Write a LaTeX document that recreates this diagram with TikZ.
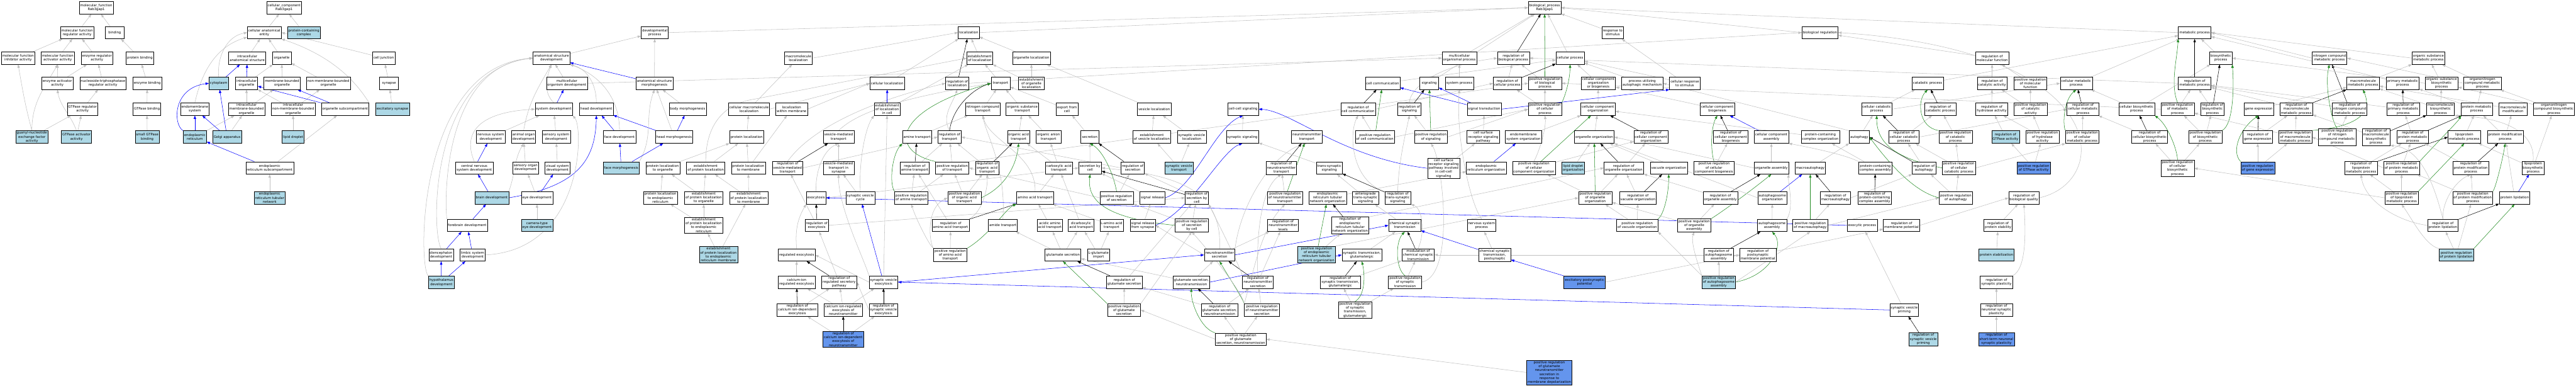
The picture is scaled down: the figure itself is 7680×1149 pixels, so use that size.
\documentclass[tikz,border=0pt]{standalone}
\usepackage{fontspec}
\setmainfont{DejaVu Sans}
\usetikzlibrary{arrows.meta,shadows,backgrounds}
\definecolor{lblue}{HTML}{ADD8E6}
\definecolor{cblue}{HTML}{6495ED}
\definecolor{egray}{HTML}{C0C0C0}
\definecolor{egreen}{HTML}{228B22}
\newcommand\gofont{\fontsize{5}{5.85}\selectfont}
\tikzset{
  box/.style={draw=black, line width=0.5pt, font=\gofont, align=center, minimum width=28pt, minimum height=18.5pt, inner xsep=1.5pt, inner ysep=1.2pt, drop shadow={shadow xshift=0.6pt, shadow yshift=-0.6pt, fill=black!40, opacity=1}},
  wb/.style={box, fill=white},
  lb/.style={box, fill=lblue},
  cb/.style={box, fill=cblue},
  ge/.style={draw=egray, line width=0.5pt, -{Triangle[length=5pt,width=3.6pt]}},
  be/.style={ge, draw=blue},
  ke/.style={ge, draw=black},
  gr/.style={ge, draw=egreen},
}
\begin{document}
\begin{tikzpicture}[x=0.5pt,y=-0.5pt]
\useasboundingbox (0,0) rectangle (7680,1149);
% ---------- molecular function ----------
\node[wb] (MF) at (287,23) {molecular\_function\\Rab3gap1};
\node[wb] (mfreg) at (230,97) {molecular function\\regulator activity};
\node[wb] (binding) at (342,97) {binding};
\node[wb] (mfinh) at (54,173) {molecular function\\inhibitor activity};
\node[wb] (mfact) at (172,173) {molecular function\\activator activity};
\node[wb] (enzreg) at (289,173) {enzyme regulator\\activity};
\node[wb] (protbind) at (417,173) {protein binding};
\node[wb] (enzact) at (171,248) {enzyme activator\\activity};
\node[wb] (ntpreg) at (307,248) {nucleoside-triphosphatase\\regulator activity};
\node[wb] (enzbind) at (439,248) {enzyme binding};
\node[wb] (gtpreg) at (246,325) {GTPase regulator\\activity};
\node[wb] (gtpbind) at (438,325) {GTPase binding};
\node[lb] (gnef) at (95,408) {guanyl-nucleotide\\exchange factor\\activity};
\node[lb] (gap) at (228,408) {GTPase activator\\activity};
\node[lb] (sgtpb) at (439,408) {small GTPase\\binding};
% ---------- cellular component ----------
\node[wb] (CC) at (847,23) {cellular\_component\\Rab3gap1};
\node[wb] (cae) at (788,97) {cellular anatomical\\entity};
\node[lb] (pcc) at (906,97) {protein-containing\\complex};
\node[wb] (ias) at (737,173) {intracellular\\anatomical structure};
\node[wb] (organelle) at (840,173) {organelle};
\node[wb] (celljunc) at (1144,173) {cell junction};
\node[lb] (cytoplasm) at (652,248) {cytoplasm};
\node[wb] (iorg) at (735,248) {intracellular\\organelle};
\node[wb] (mbo) at (841,248) {membrane-bounded\\organelle};
\node[wb] (nmbo) at (979,248) {non-membrane-bounded\\organelle};
\node[wb] (synapse) at (1160,248) {synapse};
\node[wb] (endomem) at (581,325) {endomembrane\\system};
\node[wb] (imbo) at (735,325) {intracellular\\membrane-bounded\\organelle};
\node[wb] (inmbo) at (874,325) {intracellular\\non-membrane-bounded\\organelle};
\node[wb] (osub) at (1029,325) {organelle subcompartment};
\node[lb] (exsyn) at (1170,325) {excitatory synapse};
\node[lb] (er) at (581,408) {endoplasmic\\reticulum};
\node[lb] (golgi) at (677,408) {Golgi apparatus};
\node[lb] (lipid) at (874,408) {lipid droplet};
\node[wb] (ersub) at (804,500) {endoplasmic\\reticulum subcompartment};
\node[lb] (ertub) at (804,589) {endoplasmic\\reticulum tubular\\network};
% ---------- development ----------
\node[wb] (dp) at (1952,97) {developmental\\process};
\node[wb] (asd) at (1644,173) {anatomical structure\\development};
\node[wb] (mod) at (1690,248) {multicellular\\organism development};
\node[wb] (asm) at (1951,248) {anatomical structure\\morphogenesis};
\node[wb] (sysdev) at (1651,325) {system development};
\node[wb] (headdev) at (1778,325) {head development};
\node[wb] (nsd) at (1463,408) {nervous system\\development};
\node[wb] (aod) at (1561,408) {animal organ\\development};
\node[wb] (ssd) at (1658,408) {sensory system\\development};
\node[wb] (facedev) at (1847,408) {face development};
\node[wb] (cnsd) at (1414,500) {central nervous\\system development};
\node[wb] (sod) at (1567,500) {sensory organ\\development};
\node[wb] (vsd) at (1662,500) {visual system\\development};
\node[lb] (facemorph) at (1852,500) {face morphogenesis};
\node[lb] (braindev) at (1466,589) {brain development};
\node[wb] (eyedev) at (1601,589) {eye development};
\node[wb] (forebrain) at (1393,671) {forebrain development};
\node[lb] (camera) at (1601,671) {camera-type\\eye development};
\node[wb] (dienceph) at (1315,759) {diencephalon\\development};
\node[wb] (limbic) at (1409,759) {limbic system\\development};
\node[lb] (hypoth) at (1316,841) {hypothalamus\\development};
% ---------- protein localization / vesicles ----------
\node[wb] (macroloc) at (2380,173) {macromolecule\\localization};
\node[wb] (bodymorph) at (2050,325) {body morphogenesis};
\node[wb] (cmacroloc) at (2233,325) {cellular macromolecule\\localization};
\node[wb] (locmem) at (2360,325) {localization\\within membrane};
\node[wb] (headmorph) at (2010,408) {head morphogenesis};
\node[wb] (protloc) at (2226,408) {protein localization};
\node[wb] (vmt) at (2500,408) {vesicle-mediated\\transport};
\node[wb] (plorg) at (1976,500) {protein localization\\to organelle};
\node[wb] (epl) at (2104,500) {establishment\\of protein localization};
\node[wb] (plmem) at (2231,500) {protein localization\\to membrane};
\node[wb] (rvmt) at (2348,500) {regulation of\\vesicle-mediated\\transport};
\node[wb] (vmts) at (2500,500) {vesicle-mediated\\transport in\\synapse};
\node[wb] (pler) at (1969,589) {protein localization\\to endoplasmic\\reticulum};
\node[wb] (eplorg) at (2098,589) {establishment\\of protein localization\\to organelle};
\node[wb] (eplmem) at (2232,589) {establishment\\of protein localization\\to membrane};
\node[wb] (exocytosis) at (2433,589) {exocytosis};
\node[wb] (svcycle) at (2565,589) {synaptic vesicle\\cycle};
\node[wb] (epler) at (2098,671) {establishment\\of protein localization\\to endoplasmic\\reticulum};
\node[wb] (rexo) at (2435,671) {regulation of\\exocytosis};
\node[lb] (eplerm) at (2142,758) {establishment\\of protein localization\\to endoplasmic\\reticulum membrane};
\node[wb] (regexo) at (2375,759) {regulated exocytosis};
\node[wb] (caexo) at (2375,840) {calcium-ion\\regulated exocytosis};
\node[wb] (rrsp) at (2502,840) {regulation of\\regulated secretory\\pathway};
\node[wb] (rcade) at (2377,923) {regulation of\\calcium ion-dependent\\exocytosis};
\node[wb] (caexont) at (2514,923) {calcium ion-regulated\\exocytosis of\\neurotransmitter};
\node[cb] (rcadent) at (2514,1010) {regulation of\\calcium ion-dependent\\exocytosis of\\neurotransmitter};
% ---------- transport ----------
\node[wb] (localization) at (2888,97) {localization};
\node[wb] (estloc) at (2921,173) {establishment\\of localization};
\node[wb] (orgloc) at (3075,173) {organelle localization};
\node[wb] (cellloc) at (2645,248) {cellular localization};
\node[wb] (rloc) at (2854,248) {regulation of\\localization};
\node[wb] (transport) at (2983,248) {transport};
\node[wb] (eorgloc) at (3075,248) {establishment\\of organelle\\localization};
\node[wb] (elcell) at (2645,325) {establishment\\of localization\\in cell};
\node[wb] (nctrans) at (2930,325) {nitrogen compound\\transport};
\node[wb] (ostrans) at (3048,325) {organic substance\\transport};
\node[wb] (exportcell) at (3181,325) {export from\\cell};
\node[wb] (amtrans) at (2734,408) {amine transport};
\node[wb] (rtrans) at (2831,408) {regulation of\\transport};
\node[wb] (oatrans) at (3037,408) {organic acid\\transport};
\node[wb] (oantrans) at (3126,408) {organic anion\\transport};
\node[wb] (ramt) at (2727,500) {regulation of\\amine transport};
\node[wb] (prtrans) at (2839,500) {positive regulation\\of transport};
\node[wb] (roat) at (2943,500) {regulation of\\organic acid\\transport};
\node[wb] (catrans) at (3157,500) {carboxylic acid\\transport};
\node[wb] (prat) at (2717,589) {positive regulation\\of amine transport};
\node[wb] (proat) at (2875,589) {positive regulation\\of organic acid\\transport};
\node[wb] (aatrans) at (3086,589) {amino acid transport};
\node[wb] (raat) at (2834,671) {regulation of\\amino acid transport};
\node[wb] (amidetrans) at (2990,671) {amide transport};
\node[wb] (acaatrans) at (3130,671) {acidic amino\\acid transport};
\node[wb] (dicarb) at (3223,671) {dicarboxylic\\acid transport};
\node[wb] (praat) at (2833,759) {positive regulation\\of amino acid\\transport};
\node[wb] (glusec) at (3169,759) {glutamate secretion};
\node[wb] (svexo) at (2634,840) {synaptic vesicle\\exocytosis};
\node[wb] (rsvexo) at (2634,923) {regulation of\\synaptic vesicle\\exocytosis};
% ---------- secretion ----------
\node[wb] (vesloc) at (3441,325) {vesicle localization};
\node[wb] (ccsig) at (3706,325) {cell-cell signaling};
\node[wb] (secretion) at (3249,408) {secretion};
\node[wb] (evl) at (3434,408) {establishment\\of vesicle localization};
\node[wb] (svloc) at (3553,408) {synaptic vesicle\\localization};
\node[wb] (synsig) at (3704,408) {synaptic signaling};
\node[wb] (secbycell) at (3250,500) {secretion by\\cell};
\node[wb] (rsec) at (3377,500) {regulation of\\secretion};
\node[lb] (svtrans) at (3515,500) {synaptic vesicle\\transport};
\node[wb] (rntt) at (3820,500) {regulation of\\neurotransmitter\\transport};
\node[wb] (prsec) at (3329,589) {positive regulation\\of secretion};
\node[wb] (sigrel) at (3436,589) {signal release};
\node[wb] (rsbc) at (3568,589) {regulation of\\secretion by\\cell};
\node[wb] (prntt) at (3831,589) {positive regulation\\of neurotransmitter\\transport};
\node[wb] (Lamino) at (3314,671) {L-amino acid\\transport};
\node[wb] (sigsyn) at (3407,671) {signal release\\from synapse};
\node[wb] (prsbc) at (3553,671) {positive regulation\\of secretion\\by cell};
\node[wb] (rntl) at (3825,671) {regulation of\\neurotransmitter\\levels};
\node[wb] (Lglu) at (3275,759) {L-glutamate\\import};
\node[wb] (ntsec) at (3636,759) {neurotransmitter\\secretion};
\node[wb] (rglusec) at (3352,840) {regulation of\\glutamate secretion};
\node[wb] (glusecnt) at (3552,840) {glutamate secretion,\\neurotransmission};
\node[wb] (rntsec) at (3750,840) {regulation of\\neurotransmitter\\secretion};
\node[wb] (prglusec) at (3351,923) {positive regulation\\of glutamate\\secretion};
\node[wb] (rglusecnt) at (3636,923) {regulation of\\glutamate secretion,\\neurotransmission};
\node[wb] (prntsec) at (3762,923) {positive regulation\\of neurotransmitter\\secretion};
\node[wb] (prglusecnt) at (3699,1010) {positive regulation\\of glutamate\\secretion, neurotransmission};
% ---------- signaling ----------
\node[wb] (mop) at (4351,173) {multicellular\\organismal process};
\node[wb] (rbp) at (4512,173) {regulation of\\biological process};
\node[wb] (cellcomm) at (4122,248) {cell communication};
\node[wb] (signaling) at (4261,248) {signaling};
\node[wb] (sysproc) at (4351,248) {system process};
\node[wb] (rcellproc) at (4494,248) {regulation of\\cellular process};
\node[wb] (rcc) at (4049,325) {regulation of\\cell communication};
\node[wb] (rsig) at (4202,325) {regulation of\\signaling};
\node[wb] (sigtrans) at (4425,325) {signal transduction};
\node[wb] (ntt) at (3896,408) {neurotransmitter\\transport};
\node[wb] (prcc) at (4099,408) {positive regulation\\of cell communication};
\node[wb] (prsig) at (4266,408) {positive regulation\\of signaling};
\node[wb] (csrsp) at (4422,408) {cell surface\\receptor signaling\\pathway};
\node[wb] (tss) at (3963,500) {trans-synaptic\\signaling};
\node[wb] (csrspccs) at (4304,501) {cell surface\\receptor signaling\\pathway involved\\in cell-cell\\signaling};
\node[wb] (erorg) at (4431,500) {endoplasmic\\reticulum organization};
\node[wb] (erton) at (3958,589) {endoplasmic\\reticulum tubular\\network organization};
\node[wb] (ats) at (4071,589) {anterograde\\trans-synaptic\\signaling};
\node[wb] (rtss) at (4167,589) {regulation of\\trans-synaptic\\signaling};
\node[wb] (rerton) at (4025,671) {regulation of\\endoplasmic\\reticulum tubular\\network organization};
\node[wb] (cst) at (4188,671) {chemical synaptic\\transmission};
\node[wb] (nsp) at (4417,671) {nervous system\\process};
\node[lb] (prerton) at (3925,758) {positive regulation\\of endoplasmic\\reticulum tubular\\network organization};
\node[wb] (stg) at (4060,759) {synaptic transmission,\\glutamatergic};
\node[wb] (mcst) at (4228,759) {modulation of\\chemical synaptic\\transmission};
\node[wb] (cstp) at (4456,759) {chemical synaptic\\transmission,\\postsynaptic};
\node[wb] (rstg) at (3996,840) {regulation of\\synaptic transmission,\\glutamatergic};
\node[wb] (prst) at (4189,840) {positive regulation\\of synaptic\\transmission};
\node[wb] (prstg) at (4040,923) {positive regulation\\of synaptic\\transmission,\\glutamatergic};
% ---------- biological process / organization ----------
\node[wb] (BP) at (4605,23) {biological\_process\\Rab3gap1};
\node[wb] (rts) at (4808,97) {response to\\stimulus};
\node[wb] (cellproc) at (4681,173) {cellular process};
\node[wb] (prbp) at (4606,248) {positive regulation\\of biological\\process};
\node[wb] (ccob) at (4765,248) {cellular component\\organization\\or biogenesis};
\node[wb] (puam) at (4896,248) {process utilizing\\autophagic mechanism};
\node[wb] (crs) at (5023,248) {cellular response\\to stimulus};
\node[wb] (prcp) at (4606,325) {positive regulation\\of cellular\\process};
\node[wb] (cco) at (4764,325) {cellular component\\organization};
\node[wb] (ccb) at (5120,325) {cellular component\\biogenesis};
\node[wb] (emso) at (4542,408) {endomembrane\\system organization};
\node[wb] (orgorg) at (4753,408) {organelle organization};
\node[wb] (rcco) at (4922,408) {regulation of\\cellular component\\organization};
\node[wb] (rccb) at (5160,408) {regulation of\\cellular component\\biogenesis};
\node[wb] (prcco) at (4573,500) {positive regulation\\of cellular\\component organization};
\node[lb] (ldo) at (4690,500) {lipid droplet\\organization};
\node[wb] (roo) at (4841,500) {regulation of\\organelle organization};
\node[wb] (vacorg) at (4975,500) {vacuole organization};
\node[wb] (prccb) at (5110,500) {positive regulation\\of cellular\\component biogenesis};
\node[wb] (proo) at (4756,589) {positive regulation\\of organelle\\organization};
\node[wb] (rvo) at (4883,589) {regulation of\\vacuole organization};
\node[wb] (roa) at (5129,589) {regulation of\\organelle assembly};
\node[wb] (prvo) at (4881,671) {positive regulation\\of vacuole organization};
\node[wb] (proa) at (5051,671) {positive regulation\\of organelle\\assembly};
\node[wb] (rautoasm) at (5124,759) {regulation of\\autophagosome\\assembly};
\node[cb] (epp) at (4724,840) {excitatory postsynaptic\\potential};
\node[lb] (pras) at (5124,840) {positive regulation\\of autophagosome\\assembly};
\node[cb] (prgntmd) at (4619,1109) {positive regulation\\of glutamate\\neurotransmitter\\secretion in\\response to\\membrane depolarization};
% ---------- autophagy / catabolism ----------
\node[wb] (bioreg) at (5426,97) {biological regulation};
\node[wb] (catproc) at (5747,248) {catabolic process};
\node[wb] (ccatproc) at (5595,325) {cellular catabolic\\process};
\node[wb] (rcatproc) at (5785,325) {regulation of\\catabolic process};
\node[wb] (ccasm) at (5281,408) {cellular component\\assembly};
\node[wb] (pcco) at (5427,408) {protein-containing\\complex organization};
\node[wb] (autophagy) at (5543,408) {autophagy};
\node[wb] (rccatp) at (5676,408) {regulation of\\cellular catabolic\\process};
\node[wb] (orgasm) at (5281,500) {organelle assembly};
\node[wb] (macroauto) at (5397,500) {macroautophagy};
\node[wb] (pcca) at (5591,500) {protein-containing\\complex assembly};
\node[wb] (rautophagy) at (5736,500) {regulation of\\autophagy};
\node[wb] (autoorg) at (5284,589) {autophagosome\\organization};
\node[wb] (rmacroauto) at (5472,589) {regulation of\\macroautophagy};
\node[wb] (rpcca) at (5589,589) {regulation of\\protein-containing\\complex assembly};
\node[wb] (autoasm) at (5283,671) {autophagosome\\assembly};
\node[wb] (prmacroauto) at (5397,671) {positive regulation\\of macroautophagy};
\node[wb] (exoproc) at (5552,671) {exocytic process};
\node[wb] (rmp) at (5669,671) {regulation of\\membrane potential};
\node[wb] (rpmp) at (5241,759) {regulation of\\postsynaptic\\membrane potential};
\node[wb] (svpriming) at (5677,923) {synaptic vesicle\\priming};
\node[lb] (rsvpriming) at (5734,1010) {regulation of\\synaptic vesicle\\priming};
% ---------- molecular function regulation ----------
\node[wb] (rmf) at (5939,173) {regulation of\\molecular function};
\node[wb] (rca) at (5939,248) {regulation of\\catalytic activity};
\node[wb] (prmf) at (6053,248) {positive regulation\\of molecular\\function};
\node[wb] (cmp) at (6190,248) {cellular metabolic\\process};
\node[wb] (rha) at (5938,325) {regulation of\\hydrolase activity};
\node[wb] (prca) at (6054,325) {positive regulation\\of catalytic\\activity};
\node[wb] (rcmp) at (6210,325) {regulation of\\cellular metabolic\\process};
\node[wb] (cbp) at (6370,325) {cellular biosynthetic\\process};
\node[wb] (prcatp) at (5830,408) {positive regulation\\of catabolic\\process};
\node[lb] (rgtpase) at (5979,408) {regulation of\\GTPase activity};
\node[wb] (prha) at (6089,408) {positive regulation\\of hydrolase\\activity};
\node[wb] (prcmp) at (6208,408) {positive regulation\\of cellular\\metabolic process};
\node[wb] (rcbp) at (6409,408) {regulation of\\cellular biosynthetic\\process};
\node[wb] (prccatp) at (5840,500) {positive regulation\\of cellular\\catabolic process};
\node[cb] (prgtpase) at (6063,500) {positive regulation\\of GTPase activity};
\node[wb] (prautophagy) at (5831,589) {positive regulation\\of autophagy};
\node[wb] (rbq) at (6034,589) {regulation of\\biological quality};
\node[wb] (rps) at (5957,671) {regulation of\\protein stability};
\node[lb] (protstab) at (5952,759) {protein stabilization};
\node[wb] (rsp) at (5952,840) {regulation of\\synaptic plasticity};
\node[wb] (rnsp) at (5952,923) {regulation of\\neuronal synaptic\\plasticity};
\node[cb] (rstnsp) at (5952,1010) {regulation of\\short-term neuronal\\synaptic plasticity};
% ---------- metabolism ----------
\node[wb] (mp) at (6543,97) {metabolic process};
\node[wb] (bp2) at (6621,173) {biosynthetic\\process};
\node[wb] (ncmp) at (6945,173) {nitrogen compound\\metabolic process};
\node[wb] (rmp2) at (6543,248) {regulation of\\metabolic process};
\node[wb] (mmp) at (7045,248) {macromolecule\\metabolic process};
\node[wb] (prmp) at (6492,325) {positive regulation\\of metabolic\\process};
\node[wb] (rbsp) at (6596,325) {regulation of\\biosynthetic\\process};
\node[wb] (geneexp) at (6734,325) {gene expression};
\node[wb] (rmmp) at (6846,325) {regulation of\\macromolecule\\metabolic process};
\node[wb] (rncmp) at (7005,325) {regulation of\\nitrogen compound\\metabolic process};
\node[wb] (prbsp) at (6575,408) {positive regulation\\of biosynthetic\\process};
\node[wb] (rge) at (6731,408) {regulation of\\gene expression};
\node[wb] (prmmp) at (6843,408) {positive regulation\\of macromolecule\\metabolic process};
\node[wb] (prncmp) at (6968,408) {positive regulation\\of nitrogen\\compound metabolic\\process};
\node[wb] (prcbp) at (6492,501) {positive regulation\\of cellular\\biosynthetic\\process};
\node[cb] (prge) at (6731,500) {positive regulation\\of gene expression};
\node[wb] (rlmp) at (7039,500) {regulation of\\lipoprotein\\metabolic process};
\node[wb] (osmp) at (7240,173) {organic substance\\metabolic process};
\node[wb] (pmp) at (7163,248) {primary metabolic\\process};
\node[wb] (osbp) at (7279,248) {organic substance\\biosynthetic\\process};
\node[wb] (oncmp) at (7401,248) {organonitrogen\\compound metabolic\\process};
\node[wb] (rpmp2) at (7165,325) {regulation of\\primary metabolic\\process};
\node[wb] (mbp) at (7276,325) {macromolecule\\biosynthetic\\process};
\node[wb] (protmp) at (7384,325) {protein metabolic\\process};
\node[wb] (mmod) at (7492,325) {macromolecule\\modification};
\node[wb] (oncbp) at (7614,325) {organonitrogen\\compound biosynthetic\\process};
\node[wb] (rmbp) at (7084,408) {regulation of\\macromolecule\\biosynthetic\\process};
\node[wb] (rprotmp) at (7193,408) {regulation of\\protein metabolic\\process};
\node[wb] (lmp) at (7347,408) {lipoprotein\\metabolic process};
\node[wb] (pmproc) at (7469,408) {protein modification\\process};
\node[wb] (prprotmp) at (7160,500) {positive regulation\\of protein metabolic\\process};
\node[wb] (rpmod) at (7366,500) {regulation of\\protein modification\\process};
\node[wb] (lbp) at (7552,500) {lipoprotein\\biosynthetic\\process};
\node[wb] (prlmp) at (7160,589) {positive regulation\\of lipoprotein\\metabolic process};
\node[wb] (prpmod) at (7372,589) {positive regulation\\of protein modification\\process};
\node[wb] (protlip) at (7497,589) {protein lipidation};
\node[wb] (rprotlip) at (7283,671) {regulation of\\protein lipidation};
\node[lb] (prprotlip) at (7323,759) {positive regulation\\of protein lipidation};

\begin{pgfonlayer}{background}
\fill[white] (0,0) rectangle (7680,1149);
% MF
\draw[ge] (mfreg) -- (MF);
\draw[ge] (binding) -- (MF);
\draw[ge] (mfinh) -- (mfreg);
\draw[ge] (mfact) -- (mfreg);
\draw[ge] (enzreg) -- (mfreg);
\draw[ge] (protbind) -- (binding);
\draw[ge] (enzact) -- (mfact);
\draw[ge] (enzact) -- (enzreg);
\draw[ge] (ntpreg) -- (enzreg);
\draw[ge] (enzbind) -- (protbind);
\draw[ge] (gtpreg) -- (ntpreg);
\draw[ge] (gtpbind) -- (enzbind);
\draw[ge] (gnef.north) to[out=105,in=-80] (mfinh.south);
\draw[ge] (gnef.north) to[out=90,in=-120] (mfact.south);
\draw[ge] (gnef) -- (gtpreg);
\draw[ge] (gap.north) to[out=110,in=-80] (enzact.south);
\draw[ge] (gap) -- (gtpreg);
\draw[ge] (sgtpb) -- (gtpbind);
% CC
\draw[ge] (cae) -- (CC);
\draw[ge] (pcc) -- (CC);
\draw[ge] (ias) -- (cae);
\draw[ge] (organelle) -- (cae);
\draw[ge] (cytoplasm.north) to[out=95,in=190] (cae.west);
\draw[ge] (endomem.north) .. controls (600,220) and (640,140) .. (cae.195);
\draw[ge] (celljunc) -- (cae.east);
\draw[ge] (osub.north east) .. controls (1065,250) and (1000,170) .. (cae.south east);
\draw[ge] (iorg) -- (organelle);
\draw[ge] (mbo) -- (organelle);
\draw[ge] (nmbo) -- (organelle);
\draw[ge] (synapse) -- (celljunc);
\draw[ge] (imbo) -- (iorg);
\draw[ge] (imbo) -- (mbo);
\draw[ge] (inmbo) -- (iorg);
\draw[ge] (inmbo) -- (nmbo);
\draw[ge] (exsyn) -- (synapse);
\draw[ge] (golgi) -- (imbo);
\draw[ge] (er) -- (imbo);
\draw[ge] (lipid) -- (inmbo);
\draw[ge] (ersub) -- (osub);
\draw[ge] (ertub) -- (ersub);
\draw[be] (er) -- (endomem);
\draw[be] (er.north west) .. controls (515,370) and (515,262) .. (cytoplasm.west);
\draw[be] (golgi) -- (endomem);
\draw[be] (golgi) -- (cytoplasm);
\draw[be] (cytoplasm) -- (ias);
\draw[be] (iorg) -- (ias);
\draw[be] (osub) -- (iorg);
\draw[be] (osub) -- (mbo);
\draw[be] (ersub) -- (er);
% development
\draw[ge] (asd) -- (dp);
\draw[ge] (asm) -- (dp);
\draw[ge] (mod) -- (asd);
\draw[be] (asm) -- (asd);
\draw[ge] (sysdev.north) to[out=135,in=-110] (asd.south);
\draw[ge] (headdev.north) to[out=90,in=-15] (asd.south east);
\draw[ge] (facedev.north) to[out=90,in=-20] (asd.south east);
\draw[be] (sysdev) -- (mod);
\draw[ge] (nsd) -- (sysdev);
\draw[ge] (aod.north) to[out=80,in=-120] (asd.south);
\draw[ge] (cnsd.north) .. controls (1380,400) and (1420,335) .. (sysdev.west);
\draw[ge] (ssd) -- (sysdev);
\draw[be] (facedev) -- (headdev);
\draw[be] (headmorph) -- (headdev);
\draw[be] (facemorph) -- (facedev);
\draw[ge] (facemorph.north east) to[out=60,in=-110] (asm.south);
\draw[be] (facemorph) -- (headmorph);
\draw[be] (cnsd) -- (nsd);
\draw[ge] (sod) -- (aod);
\draw[ge] (vsd) -- (ssd);
\draw[be] (braindev) -- (cnsd);
\draw[ge] (braindev.north east) to[out=70,in=-120] (aod.south);
\draw[be] (braindev.east) .. controls (1720,555) and (1775,480) .. (headdev.south);
\draw[ge] (eyedev) -- (sod);
\draw[be] (eyedev) -- (vsd);
\draw[ge] (camera) -- (eyedev);
\draw[be] (forebrain) -- (braindev);
\draw[ge] (forebrain.north west) .. controls (1325,600) and (1320,200) .. (asd.west);
\draw[be] (dienceph) -- (forebrain);
\draw[ge] (dienceph.north) .. controls (1285,690) and (1280,210) .. (asd.west);
\draw[be] (limbic) -- (forebrain);
\draw[ge] (limbic.east) .. controls (1740,745) and (1740,380) .. (sysdev.south east);
\draw[be] (hypoth) -- (dienceph);
\draw[be] (hypoth) -- (limbic);
\draw[ge] (hypoth.north west) .. controls (1245,790) and (1245,200) .. (asd.west);
\draw[ge] (bodymorph) -- (asm);
\draw[ge] (headmorph) -- (asm);
\draw[be] (headmorph) -- (bodymorph);
\draw[ge] (mod.east) -- (mop.west);
\draw[ge] (dp.east) -- (BP.west);
% localization
\draw[ge] (cmacroloc) -- (macroloc);
\draw[ge] (protloc) -- (cmacroloc);
\draw[ge] (macroloc.east) -- (localization.west);
\draw[ge] (cmacroloc.east) -- (cellloc.west);
\draw[ge] (locmem.east) -- (cellloc.west);
\draw[ge] (plorg) -- (protloc);
\draw[ge] (epl) -- (protloc);
\draw[ge] (epl.north) .. controls (2104,380) and (2150,310) .. (2250,295) -- (estloc.west);
\draw[ge] (plmem) -- (protloc);
\draw[ge] (plmem) -- (locmem);
\draw[ge] (pler) -- (plorg);
\draw[ge] (eplorg) -- (plorg);
\draw[ge] (eplorg) -- (epl);
\draw[ge] (eplmem) -- (epl);
\draw[ge] (eplmem) -- (plmem);
\draw[ge] (epler) -- (pler);
\draw[ge] (epler) -- (eplorg);
\draw[ge] (eplerm) -- (epler);
\draw[ge] (eplerm) -- (eplmem);
\draw[ge] (vmt.north) .. controls (2560,330) and (2700,290) .. (transport.west);
\draw[ke] (rvmt) -- (vmt);
\draw[ge] (rvmt.east) -- (rtrans.west);
\draw[ge] (rvmt.north) .. controls (2420,380) and (2600,300) .. (rloc.west);
\draw[ge] (vmts) -- (vmt);
\draw[ge] (exocytosis.north) .. controls (2430,520) and (2450,450) .. (vmt.south);
\draw[ge] (exocytosis.east) -- (secbycell.west);
\draw[ge] (svcycle) -- (vmts);
\draw[ke] (rexo) -- (exocytosis);
\draw[ge] (rexo) -- (rvmt);
\draw[ge] (rexo.east) -- (rsbc.west);
\draw[ge] (regexo.north) to[out=95,in=-120] (exocytosis.south west);
\draw[ke] (rrsp) -- (regexo);
\draw[ge] (rrsp) -- (rexo);
\draw[ge] (caexo) -- (regexo);
\draw[ke] (rcade) -- (caexo);
\draw[ge] (rcade) -- (rrsp);
\draw[ge] (caexont) -- (caexo);
\draw[ge] (caexont) -- (rrsp);
\draw[ge] (caexont) -- (svexo);
\draw[ge] (rcadent) -- (rcade);
\draw[ke] (rcadent) -- (caexont);
\draw[ge] (rcadent) -- (rsvexo);
\draw[ge] (svexo.north west) .. controls (2580,780) and (2500,620) .. (vmts.south);
\draw[ge] (svexo.west) -- (regexo.east);
\draw[ge] (rsvexo.west) -- (rrsp.east);
% transport
\draw[ge] (localization.east) -- (BP.west);
\draw[ge] (estloc) -- (localization);
\draw[ge] (orgloc) -- (localization);
\draw[ge] (cellloc) -- (localization);
\draw[ke] (rloc) -- (localization);
\draw[ge] (rloc.east) -- (bioreg.west);
\draw[ge] (transport) -- (estloc);
\draw[ge] (eorgloc) -- (orgloc);
\draw[ge] (eorgloc) -- (estloc);
\draw[be] (elcell) -- (cellloc);
\draw[ge] (elcell) -- (estloc);
\draw[ge] (nctrans) -- (transport);
\draw[ge] (ostrans) -- (transport);
\draw[ge] (exportcell) -- (transport);
\draw[ge] (amtrans) -- (nctrans);
\draw[ge] (rtrans.north) to[out=120,in=-110] (rloc.south);
\draw[ke] (rtrans.north) .. controls (2840,320) and (2900,265) .. (transport.west);
\draw[ge] (oatrans) -- (ostrans);
\draw[ge] (oantrans) -- (ostrans);
\draw[ke] (ramt) -- (amtrans);
\draw[ge] (ramt) -- (rtrans);
\draw[ge] (prtrans) -- (rtrans);
\draw[gr] (prtrans.north west) .. controls (2650,450) and (2660,330) .. (transport.west);
\draw[ge] (prtrans.north east) -- (prbp.west);
\draw[ge] (roat) -- (rtrans);
\draw[ke] (roat) -- (oatrans);
\draw[ge] (catrans) -- (oatrans);
\draw[ge] (catrans) -- (oantrans);
\draw[ge] (prat) -- (ramt);
\draw[ge] (prat) -- (prtrans);
\draw[gr] (prat.north west) .. controls (2650,545) and (2660,460) .. (amtrans.south west);
\draw[ge] (proat) -- (prtrans);
\draw[ge] (proat) -- (roat);
\draw[gr] (proat.east) .. controls (3000,555) and (3030,490) .. (oatrans.south);
\draw[ge] (aatrans.north) .. controls (3090,460) and (2950,420) .. (nctrans.south);
\draw[ge] (aatrans) -- (catrans);
\draw[ge] (raat) -- (ramt);
\draw[ge] (raat.north east) .. controls (2930,630) and (2945,560) .. (roat.south);
\draw[ke] (raat) -- (aatrans);
\draw[ge] (amidetrans.north) .. controls (3000,500) and (2940,400) .. (nctrans.south);
\draw[ge] (acaatrans) -- (aatrans);
\draw[ge] (dicarb) -- (catrans);
\draw[ge] (praat) -- (raat);
\draw[ge] (praat.north west) .. controls (2770,720) and (2760,620) .. (proat.west);
\draw[ge] (praat.north west) .. controls (2770,730) and (2730,650) .. (prat.south);
\draw[gr] (praat.north east) .. controls (2950,700) and (3000,620) .. (aatrans.south west);
\draw[ge] (glusec) -- (amidetrans);
\draw[ge] (glusec) -- (acaatrans);
\draw[ge] (glusec) -- (dicarb);
\draw[be] (svexo) -- (svcycle);
\draw[be] (exoproc.west) -- (exocytosis.east);
\draw[be] (svexo.east) -- (ntsec.west);
\draw[be] (svpriming.west) -- (svexo.east);
\draw[ke] (rsvexo) -- (svexo);
\draw[ge] (svexo) -- (elcell);
\draw[ge] (svcycle.north) .. controls (2560,480) and (2580,380) .. (elcell.south west);
% secretion
\draw[ge] (vesloc) -- (orgloc);
\draw[ge] (evl) -- (vesloc);
\draw[ge] (svloc) -- (vesloc);
\draw[ge] (svtrans) -- (evl);
\draw[ge] (svtrans) -- (svloc);
\draw[ge] (secretion) -- (exportcell);
\draw[ge] (secbycell) -- (secretion);
\draw[ke] (rsec) -- (secretion);
\draw[ge] (rsec.west) -- (rtrans.east);
\draw[ge] (prsec) -- (rsec);
\draw[gr] (prsec.north) .. controls (3320,520) and (3290,450) .. (secretion.south);
\draw[ge] (prsec.west) -- (prtrans.east);
\draw[ke] (rsbc) -- (secbycell);
\draw[ge] (rsbc) -- (rsec);
\draw[ge] (prsbc) -- (rsbc);
\draw[ge] (prsbc) -- (prsec);
\draw[gr] (prsbc.west) .. controls (3300,650) and (3240,600) .. (secbycell.south);
\draw[ge] (sigrel) -- (secbycell);
\draw[be] (sigrel.east) .. controls (3560,560) and (3620,380) .. (ccsig.south);
\draw[ge] (sigsyn) -- (sigrel);
\draw[be] (sigsyn.east) .. controls (3550,630) and (3640,450) .. (synsig.south);
\draw[ge] (synsig) -- (ccsig);
\draw[ge] (Lamino) -- (aatrans);
\draw[ge] (Lglu) -- (Lamino);
\draw[ge] (Lglu) -- (dicarb);
\draw[ge] (ntsec) -- (rntl);
\draw[ge] (ntsec.west) -- (sigsyn.east);
\draw[ge] (ntsec.north) .. controls (3645,560) and (3500,520) .. (secbycell.east);
\draw[ge] (ntsec.north east) .. controls (3700,600) and (3800,450) .. (ntt.south);
\draw[gr] (prntt) -- (ntt);
\draw[ke] (rntt) -- (ntt);
\draw[ge] (prntt) -- (rntt);
\draw[be] (ntsec.east) -- (cst.west);
\draw[ge] (glusecnt) -- (glusec);
\draw[ge] (glusecnt) -- (ntsec);
\draw[be] (glusecnt.east) -- (stg.west);
\draw[ke] (rglusec) -- (glusec);
\draw[ge] (rglusec) -- (rsbc);
\draw[ge] (prglusec) -- (rglusec);
\draw[gr] (prglusec.north west) -- (glusec.south);
\draw[ge] (prglusec.north east) -- (prsbc.south);
\draw[ke] (rntsec) -- (ntsec);
\draw[ge] (rntsec.north) .. controls (3745,700) and (3760,560) .. (rntt.south);
\draw[ge] (rntsec) -- (rntl);
\draw[ge] (rntsec.north west) .. controls (3700,800) and (3620,640) .. (rsbc.south east);
\draw[ke] (rglusecnt) -- (glusecnt);
\draw[ge] (rglusecnt) -- (rglusec);
\draw[ge] (rglusecnt) -- (rntsec);
\draw[ge] (prntsec) -- (rntsec);
\draw[gr] (prntsec.north west) .. controls (3700,880) and (3660,820) .. (ntsec.south);
\draw[ge] (prntsec.north west) .. controls (3700,860) and (3580,720) .. (prsbc.south);
\draw[ge] (prntsec.north west) .. controls (3740,800) and (3760,680) .. (prntt.south);
\draw[ge] (prglusecnt) -- (rglusecnt);
\draw[ge] (prglusecnt) -- (prntsec);
\draw[gr] (prglusecnt.north west) .. controls (3580,980) and (3550,900) .. (glusecnt.south);
\draw[ge] (prglusecnt.west) -- (prglusec.east);
\draw[ge] (prgntmd.west) -- (prglusecnt.east);
\draw[ge] (tss) -- (synsig);
% signaling
\draw[ge] (cellcomm) -- (cellproc);
\draw[ge] (signaling) -- (BP);
\draw[ge] (sysproc) -- (mop);
\draw[ge] (mop) -- (BP);
\draw[ke] (rcc) -- (cellcomm);
\draw[ge] (rcc.east) -- (rcellproc.west);
\draw[ke] (rsig) -- (signaling);
\draw[ge] (rsig.north) .. controls (4200,280) and (4250,200) .. (rbp.west);
\draw[be] (sigtrans) -- (cellcomm);
\draw[be] (sigtrans) -- (signaling);
\draw[be] (sigtrans.east) -- (crs.south west);
\draw[ge] (prcc) -- (rcc);
\draw[gr] (prcc) -- (cellcomm);
\draw[ge] (prcc.east) -- (prcp.west);
\draw[ge] (prsig) -- (rsig);
\draw[gr] (prsig) -- (signaling);
\draw[ge] (prsig.east) -- (prcp.west);
\draw[ge] (csrsp) -- (sigtrans);
\draw[ge] (csrspccs) -- (csrsp);
\draw[be] (csrspccs.west) .. controls (4000,470) and (3850,330) .. (ccsig.east);
\draw[ge] (erton) -- (erorg);
\draw[be] (erorg) -- (emso);
\draw[ge] (ats) -- (tss);
\draw[ke] (rtss) -- (tss);
\draw[ge] (rtss.north west) .. controls (4030,540) and (4020,400) .. (rcc.south);
\draw[ge] (rtss.north) .. controls (4170,480) and (4190,400) .. (rsig.south);
\draw[ke] (rerton) -- (erton);
\draw[ge] (rerton.north east) -- (roo.west);
\draw[gr] (prerton) -- (erton);
\draw[ge] (prerton) -- (rerton);
\draw[ge] (prerton.north east) -- (proo.west);
\draw[ge] (cst) -- (ats);
\draw[ke] (mcst) -- (cst);
\draw[ge] (mcst.north) .. controls (4250,690) and (4240,620) .. (rtss.south east);
\draw[ge] (prst) -- (mcst);
\draw[gr] (prst.north) .. controls (4160,800) and (4160,720) .. (cst.south);
\draw[ge] (prst.east) .. controls (4340,820) and (4300,480) .. (prsig.south);
\draw[ge] (stg) -- (cst);
\draw[ke] (rstg) -- (stg);
\draw[ge] (rstg) -- (mcst);
\draw[ge] (prstg) -- (rstg);
\draw[gr] (prstg.north) .. controls (4070,880) and (4070,820) .. (stg.south);
\draw[ge] (prstg) -- (prst);
\draw[be] (cstp) -- (cst);
\draw[ge] (cstp) -- (nsp);
\draw[ge] (nsp.north) .. controls (4380,600) and (4340,400) .. (sysproc.south);
\draw[be] (epp) -- (cstp);
\draw[ge] (epp.east) -- (rpmp.west);
% BP / organization
\draw[ke] (rbp) -- (BP);
\draw[gr] (prbp) -- (BP);
\draw[ge] (cellproc) -- (BP);
\draw[ge] (rts) -- (BP);
\draw[ge] (crs) -- (rts);
\draw[ge] (crs) -- (cellproc);
\draw[ge] (prbp) -- (rbp);
\draw[ge] (rcellproc) -- (rbp);
\draw[ke] (rcellproc) -- (cellproc);
\draw[gr] (prcp.north east) .. controls (4660,300) and (4680,250) .. (cellproc.south);
\draw[ge] (prcp) -- (prbp);
\draw[ge] (prcp) -- (rcellproc);
\draw[ge] (ccob) -- (cellproc);
\draw[ge] (puam) -- (cellproc);
\draw[ge] (cco) -- (ccob);
\draw[ge] (ccb) -- (ccob);
\draw[ge] (orgorg) -- (cco);
\draw[ke] (rcco) -- (cco);
\draw[ge] (emso) -- (cco);
\draw[gr] (prcco) -- (cco);
\draw[ge] (prcco) -- (rcco);
\draw[ge] (prcco.north) .. controls (4590,450) and (4610,380) .. (prcp.south);
\draw[ge] (ldo) -- (orgorg);
\draw[ke] (roo) -- (orgorg);
\draw[ge] (roo) -- (rcco);
\draw[ge] (vacorg) -- (orgorg);
\draw[gr] (proo) -- (orgorg);
\draw[ge] (proo) -- (roo);
\draw[ge] (proo) -- (prcco);
\draw[ge] (rvo) -- (roo);
\draw[ke] (rvo) -- (vacorg);
\draw[ge] (prvo) -- (rvo);
\draw[gr] (prvo.north east) .. controls (4960,640) and (4975,580) .. (vacorg.south);
\draw[ge] (prvo) -- (proo);
\draw[ge] (roa) -- (roo);
\draw[ge] (proa) -- (roa);
\draw[ge] (proa) -- (proo);
\draw[gr] (prccb.north) .. controls (5100,450) and (5100,380) .. (ccb.south);
\draw[ge] (prccb) -- (rccb);
\draw[ke] (rccb) -- (ccb);
\draw[ge] (pras) -- (rautoasm);
\draw[ge] (pras.north west) .. controls (5060,780) and (5040,720) .. (proa.south);
\draw[ge] (pras.north west) -- (prvo.south east);
% autophagy
\draw[ge] (bioreg.west) -- (BP.east);
\draw[be] (ccasm) -- (ccb);
\draw[ge] (orgasm) -- (ccasm);
\draw[ge] (orgasm.west) -- (orgorg.east);
\draw[ke] (roa) -- (orgasm);
\draw[gr] (proa.north east) .. controls (5150,620) and (5230,560) .. (orgasm.south);
\draw[be] (autoorg) -- (macroauto);
\draw[ge] (autoorg.west) -- (orgorg.south east);
\draw[ge] (autoasm) -- (autoorg);
\draw[ge] (autoasm.north east) .. controls (5350,620) and (5330,540) .. (orgasm.south east);
\draw[ke] (rautoasm) -- (autoasm);
\draw[gr] (pras.east) .. controls (5280,820) and (5320,730) .. (autoasm.south);
\draw[ge] (pras.east) -- (prmacroauto.south);
\draw[ge] (macroauto) -- (autophagy);
\draw[ke] (rmacroauto) -- (macroauto);
\draw[ge] (rmacroauto.east) -- (rautophagy.south west);
\draw[gr] (prmacroauto) -- (macroauto);
\draw[ge] (prmacroauto) -- (rmacroauto);
\draw[ge] (prmacroauto.east) -- (prautophagy.west);
\draw[ge] (autophagy) -- (ccatproc);
\draw[ge] (autophagy.north west) -- (puam.east);
\draw[ke] (rautophagy.north west) -- (autophagy.east);
\draw[ge] (rautophagy) -- (rccatp);
\draw[gr] (prautophagy.west) .. controls (5700,570) and (5620,470) .. (autophagy.east);
\draw[ge] (ccatproc) -- (catproc);
\draw[ke] (rccatp) -- (ccatproc);
\draw[ge] (rccatp) -- (rcatproc);
\draw[ge] (rccatp.east) -- (rcmp.west);
\draw[ge] (ccatproc.east) -- (cmp.west);
\draw[ge] (pcca) -- (pcco);
\draw[ge] (pcca.north west) .. controls (5500,460) and (5400,440) .. (ccasm.south east);
\draw[ke] (rpcca) -- (pcca);
\draw[ge] (pcco) -- (cco);
\draw[ge] (svpriming) -- (exoproc);
\draw[ge] (rpmp) -- (rmp);
\draw[ge] (rpmp.west) -- (mcst.east);
\draw[ge] (rmp.east) -- (rbq.west);
\draw[ke] (rsvpriming) -- (svpriming);
\draw[ke] (rcatproc) -- (catproc);
\draw[ge] (catproc) -- (mp);
% MF regulation
\draw[ge] (rmf) -- (bioreg);
\draw[ge] (rca) -- (rmf);
\draw[ge] (prmf) -- (rmf);
\draw[ge] (prca) -- (rca);
\draw[ge] (prca) -- (prmf);
\draw[ge] (rha) -- (rca);
\draw[ge] (rgtpase) -- (rha);
\draw[ge] (prha) -- (rha);
\draw[ge] (prha) -- (prca);
\draw[ge] (prgtpase) -- (rgtpase);
\draw[ge] (prgtpase) -- (prha);
\draw[ge] (cmp) -- (mp);
\draw[ke] (rcmp) -- (cmp);
\draw[gr] (prcmp.north west) .. controls (6150,380) and (6150,300) .. (cmp.south);
\draw[ge] (prcmp) -- (rcmp);
\draw[ge] (prcatp) -- (rcatproc);
\draw[gr] (prcatp.north west) .. controls (5720,380) and (5715,300) .. (catproc.south);
\draw[ge] (prccatp) -- (prcatp);
\draw[ge] (prccatp) -- (rccatp);
\draw[gr] (prccatp.west) .. controls (5640,470) and (5595,420) .. (ccatproc.south);
\draw[ge] (prccatp.east) -- (prcmp.south west);
\draw[ge] (prautophagy) -- (prccatp);
\draw[ge] (prautophagy) -- (rautophagy);
\draw[ge] (rps) -- (rbq);
\draw[ge] (protstab) -- (rps);
\draw[ge] (rsp.north east) .. controls (6040,800) and (6040,700) .. (rbq.south);
\draw[ge] (rnsp) -- (rsp);
\draw[ge] (rstnsp) -- (rnsp);
\draw[ge] (rbq.east) .. controls (6300,540) and (6300,150) .. (bioreg.east);
\draw[ge] (cbp) -- (bp2);
\draw[ge] (cbp) -- (cmp);
\draw[ke] (rcbp) -- (cbp);
\draw[ge] (rcbp) -- (rcmp);
% metabolism
\draw[ge] (mp.west) -- (BP.east);
\draw[ge] (bp2) -- (mp);
\draw[ke] (rmp2) -- (mp);
\draw[gr] (prmp.north) .. controls (6470,250) and (6490,180) .. (mp.south west);
\draw[ge] (prmp) -- (rmp2);
\draw[ge] (prmp.west) -- (prbp.east);
\draw[ke] (rbsp) -- (bp2);
\draw[ge] (rbsp) -- (rmp2);
\draw[ge] (prbsp) -- (rbsp);
\draw[gr] (prbsp.north east) .. controls (6660,370) and (6660,250) .. (bp2.south east);
\draw[ge] (prbsp) -- (prmp);
\draw[ge] (prcbp) -- (prbsp);
\draw[ge] (prcbp) -- (rcbp);
\draw[gr] (prcbp.north) .. controls (6490,440) and (6460,370) .. (cbp.south east);
\draw[ge] (geneexp) -- (mmp);
\draw[ke] (rge) -- (geneexp);
\draw[ge] (rge) -- (rmmp);
\draw[ge] (prge) -- (rge);
\draw[gr] (prge.north west) .. controls (6650,450) and (6680,380) .. (geneexp.south);
\draw[ge] (prge) -- (prmmp);
\draw[ke] (rmmp) -- (mmp);
\draw[ge] (rmmp) -- (rmp2);
\draw[ge] (prmmp) -- (rmmp);
\draw[gr] (prmmp.north east) .. controls (7000,380) and (7080,350) .. (mmp.south);
\draw[ge] (prmmp) -- (prmp);
\draw[ke] (rncmp) -- (ncmp);
\draw[ge] (rncmp) -- (rmp2);
\draw[gr] (prncmp.north) .. controls (6950,360) and (6930,250) .. (ncmp.south);
\draw[ge] (prncmp) -- (rncmp);
\draw[ge] (ncmp.west) -- (mp.east);
\draw[ge] (rmp2.west) -- (rbp.east);
\draw[ge] (osmp.west) -- (mp.east);
\draw[ge] (pmp) -- (mp);
\draw[ge] (osbp) -- (osmp);
\draw[ge] (osbp.west) -- (bp2.east);
\draw[ge] (oncmp) -- (osmp);
\draw[ge] (oncmp.west) -- (ncmp.east);
\draw[ge] (mmp) -- (osmp);
\draw[ge] (mbp) -- (mmp);
\draw[ge] (mbp) -- (osbp);
\draw[ge] (protmp) -- (oncmp);
\draw[ge] (protmp) -- (pmp);
\draw[ge] (mmod) -- (mmp);
\draw[ge] (oncbp) -- (oncmp);
\draw[ge] (oncbp) -- (osbp);
\draw[ke] (rpmp2) -- (pmp);
\draw[ge] (rpmp2) -- (rmp2);
\draw[ke] (rmbp) -- (mbp);
\draw[ge] (rmbp) -- (rmmp);
\draw[ke] (rprotmp) -- (protmp);
\draw[ge] (rprotmp) -- (rpmp2);
\draw[ge] (lmp) -- (protmp);
\draw[ge] (pmproc) -- (protmp);
\draw[ge] (pmproc) -- (mmod);
\draw[ge] (lbp) -- (lmp);
\draw[ge] (lbp) -- (oncbp);
\draw[ge] (lbp.north) .. controls (7560,400) and (7480,350) .. (mbp.south east);
\draw[ke] (rlmp.north east) -- (lmp.west);
\draw[ge] (rlmp) -- (rprotmp);
\draw[ge] (prprotmp) -- (rprotmp);
\draw[gr] (prprotmp.north east) .. controls (7260,430) and (7330,360) .. (protmp.south west);
\draw[ge] (prprotmp.west) -- (prmmp.east);
\draw[ke] (rpmod) -- (pmproc);
\draw[ge] (rpmod) -- (rprotmp);
\draw[ge] (prlmp) -- (rlmp);
\draw[ge] (prlmp) -- (prprotmp);
\draw[gr] (prlmp.north east) -- (lmp.south);
\draw[ge] (prlmp.west) -- (prcbp.east);
\draw[ge] (prpmod) -- (rpmod);
\draw[gr] (prpmod.north east) .. controls (7440,560) and (7460,480) .. (pmproc.south);
\draw[ge] (prpmod) -- (prprotmp);
\draw[ge] (protlip) -- (pmproc);
\draw[be] (protlip) -- (lbp);
\draw[ke] (rprotlip) -- (protlip);
\draw[ge] (rprotlip.north) .. controls (7280,600) and (7320,540) .. (rpmod.south);
\draw[ge] (rprotlip.west) .. controls (7150,660) and (7050,600) .. (rlmp.south);
\draw[ge] (rprotlip.north) .. controls (7260,560) and (7220,440) .. (rmbp.south east);
\draw[ge] (prprotlip) -- (rprotlip);
\draw[ge] (prprotlip) -- (prpmod);
\draw[gr] (prprotlip.north east) -- (protlip.south);
\draw[ge] (prprotlip.north west) .. controls (7230,730) and (7190,650) .. (prlmp.south);
\end{pgfonlayer}
\end{tikzpicture}
\end{document}
